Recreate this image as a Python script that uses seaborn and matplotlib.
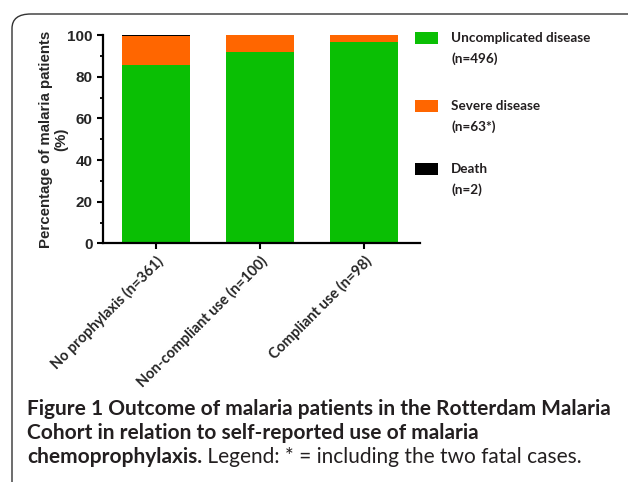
import numpy as np
import pandas as pd
import matplotlib as mpl
import matplotlib.pyplot as plt
import seaborn as sns
from matplotlib.patches import Rectangle, FancyBboxPatch
from matplotlib.ticker import MultipleLocator

groups = ['No prophylaxis (n=361)', 'Non-compliant use (n=100)', 'Compliant use (n=98)']
uncomplicated = [85.6, 92.0, 96.9]
severe = [13.85, 8.0, 3.1]
death = [0.55, 0.0, 0.0]

legend_names = ['Uncomplicated disease', 'Severe disease', 'Death']
legend_counts = ['(n=496)', '(n=63*)', '(n=2)']
colors = ['#0abf04', '#ff6600', '#000000']

sns.set_style('ticks')
plt.rcParams['font.family'] = ['Liberation Sans', 'DejaVu Sans']
CAP_FONT = ['Lato', 'DejaVu Sans']

df = pd.DataFrame({'group': groups, 'unc': uncomplicated, 'sev': severe, 'dth': death})
df['lvl2'] = df['unc'] + df['sev']
df['lvl3'] = df['lvl2'] + df['dth']

fig = plt.figure(figsize=(6.28, 4.82), dpi=100)
ax = fig.add_axes([0.164, 0.495, 0.505, 0.432])

# stacked bars: draw cumulative totals from the top layer down
for col, c in [('lvl3', colors[2]), ('lvl2', colors[1]), ('unc', colors[0])]:
    sns.barplot(data=df, x='group', y=col, color=c, width=0.66, saturation=1,
                linewidth=0, edgecolor='none', ax=ax)

ax.set_ylim(0, 100)
ax.set_xlim(-0.51, 2.54)
ax.yaxis.set_major_locator(MultipleLocator(20))
ax.yaxis.set_minor_locator(MultipleLocator(10))
sns.despine(ax=ax)
for s in ['left', 'bottom']:
    ax.spines[s].set_linewidth(1.6)
    ax.spines[s].set_color('black')
ax.tick_params(axis='both', which='major', length=4, width=1.5, color='black')
ax.tick_params(axis='y', which='minor', length=2.5, width=1.3, color='black')
for lab in ax.get_yticklabels():
    lab.set_fontweight('bold')
    lab.set_fontsize(11)
ax.set_xlabel('')
ax.set_ylabel('Percentage of malaria patients\n(%)', fontsize=10.8, fontweight='bold',
              linespacing=1.1, labelpad=-1)
ax.set_xticks(range(len(groups)))
ax.set_xticklabels(groups, rotation=45, ha='right', rotation_mode='anchor',
                   fontsize=10.5, fontweight='bold', family=CAP_FONT)

# legend: swatch beside the first line of each two-line entry
leg_y = [0.987, 0.66, 0.357]
for name, cnt, c, yy in zip(legend_names, legend_counts, colors, leg_y):
    ax.add_patch(Rectangle((0.984, yy - 0.03), 0.073, 0.06, transform=ax.transAxes,
                           facecolor=c, edgecolor='none', clip_on=False))
    ax.text(1.098, yy, name, transform=ax.transAxes, va='center', ha='left',
            fontsize=9.7, fontweight='bold', family=CAP_FONT, color='#231f20')
    ax.text(1.098, yy - 0.098, cnt, transform=ax.transAxes, va='center', ha='left',
            fontsize=9.7, fontweight='bold', family=CAP_FONT, color='#231f20')

# rounded frame of the figure panel
frame = FancyBboxPatch((12 / 628, -0.1), 1.2, 1 - 14 / 482 + 0.1,
                       boxstyle='round,pad=0,rounding_size=0.03', transform=fig.transFigure,
                       facecolor='none', edgecolor='#333333', linewidth=1.0, clip_on=False)
fig.patches.append(frame)

fs = 15
fig.text(0.043, 1 - 415 / 482, 'Figure 1 Outcome of malaria patients in the Rotterdam Malaria',
         fontsize=fs, fontweight='bold', family=CAP_FONT, va='baseline', color='#231f20')
fig.text(0.043, 1 - 439 / 482, 'Cohort in relation to self-reported use of malaria',
         fontsize=fs, fontweight='bold', family=CAP_FONT, va='baseline', color='#231f20')
t3 = fig.text(0.043, 1 - 463 / 482, 'chemoprophylaxis.',
              fontsize=fs, fontweight='bold', family=CAP_FONT, va='baseline', color='#231f20')
fig.canvas.draw()
bb = t3.get_window_extent()
x2 = fig.transFigure.inverted().transform((bb.x1, bb.y0))[0]
fig.text(x2, 1 - 463 / 482, ' Legend: * = including the two fatal cases.',
         fontsize=fs, family=CAP_FONT, va='baseline', color='#231f20')

fig.savefig('out.png', dpi=100)
